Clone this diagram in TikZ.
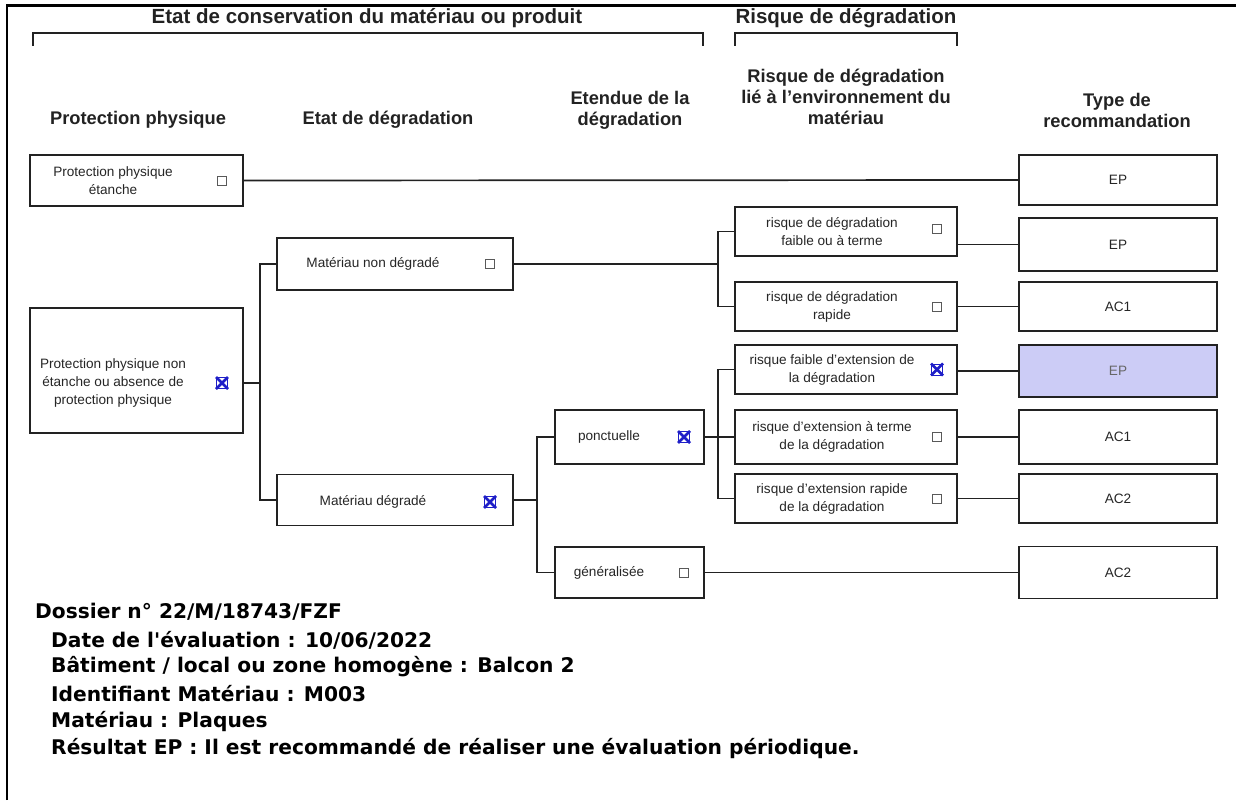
\documentclass[tikz,border=0pt]{standalone}
\usepackage{fontspec}
\setmainfont{Liberation Sans}
\newfontfamily\verd{DejaVu Sans}
\definecolor{lav}{RGB}{204,204,246}
\definecolor{xblue}{RGB}{30,30,200}
\definecolor{ink}{RGB}{34,34,34}
\begin{document}
\begin{tikzpicture}[x=1pt,y=-1pt,
  box/.style 2 args={draw=ink, line width=1.7pt, fill=white, inner sep=0pt, minimum width=#1, minimum height=#2},
  txt/.style={font=\fontsize{13.6}{18}\selectfont, text=black!85, align=center, inner sep=0pt},
  hdr/.style={font=\bfseries\fontsize{18.3}{21}\selectfont, align=center, text=ink, inner sep=0pt},
  top/.style={font=\bfseries\fontsize{20.5}{24}\selectfont, align=center, text=ink, inner sep=0pt},
  conn/.style={draw=ink, line width=1.7pt},
  brk/.style={draw=ink, line width=1.7pt},
  cb/.style={draw=black!65, line width=1pt, minimum size=9pt, inner sep=0pt, fill=white},
  xb/.style={draw=xblue, line width=1pt, minimum size=11pt, inner sep=0pt},
  xc/.style={draw=xblue, line width=2.8pt},
  info/.style={font=\verd\bfseries\fontsize{20.2}{24}\selectfont, anchor=west, inner sep=0pt, text=black}
]
\useasboundingbox (0,0) rectangle (1236,800);
% frame
\draw[line width=2pt] (7,800) -- (7,6);
\draw[line width=3pt] (6,6) -- (1236,6);

% headers
\node[top] (h1) at (367,18) {Etat de conservation du matériau ou produit};
\node[top] (h2) at (846,18) {Risque de dégradation};
\coordinate (b1a) at (33,46); \coordinate (b1b) at (703,46);
\draw[brk] (b1a) -- ++(0,-13) -| (b1b);
\coordinate (b2a) at (735,46); \coordinate (b2b) at (957,46);
\draw[brk] (b2a) -- ++(0,-13) -| (b2b);

\node[hdr] (c1) at (138,120) {Protection physique};
\node[hdr] (c2) at (388,120) {Etat de dégradation};
\node[hdr] (c3) at (630,110) {Etendue de la\\dégradation};
\node[hdr] (c4) at (846,97) {Risque de dégradation\\lié à l'environnement du\\matériau};
\node[hdr] (c5) at (1117,110) {Type de\\recommandation};

% column 1
\node[box={213pt}{51pt}] (PPE) at (136.5,180.5) {};
\node[txt] (tPPE) at (113,180.5) {Protection physique\\étanche};
\node[cb] (cPPE) at (222,180.5) {};

\node[box={213pt}{125pt}] (PPNE) at (136.5,370.5) {};
\node[txt] (tPPNE) at (113,383) {Protection physique non\\étanche ou absence de\\protection physique};
\node[xb] (xPPNE) at (222,383) {};
\draw[xc] (xPPNE.north west) -- (xPPNE.south east) (xPPNE.north east) -- (xPPNE.south west);

% column 2
\node[box={236pt}{52pt}] (MND) at (395,264) {};
\node[txt] (tMND) at (373,264) {Matériau non dégradé};
\node[cb] (cMND) at (490,264) {};

\node[box={236pt}{51pt}] (MD) at (395,500) {};
\node[txt] (tMD) at (373,502) {Matériau dégradé};
\node[xb] (xMD) at (490,502) {};
\draw[xc] (xMD.north west) -- (xMD.south east) (xMD.north east) -- (xMD.south west);

% column 3
\node[box={149pt}{54pt}] (PON) at (629.5,437) {};
\node[txt] (tPON) at (609,437) {ponctuelle};
\node[xb] (xPON) at (684,437) {};
\draw[xc] (xPON.north west) -- (xPON.south east) (xPON.north east) -- (xPON.south west);

\node[box={149pt}{51pt}] (GEN) at (629.5,572.5) {};
\node[txt] (tGEN) at (609,572.5) {généralisée};
\node[cb] (cGEN) at (684,572.5) {};

% column 4
\node[box={222pt}{49pt}] (R1) at (846,231.5) {};
\node[txt] (tR1) at (832,232) {risque de dégradation\\faible ou à terme};
\node[cb] (cR1) at (937,229) {};

\node[box={222pt}{49pt}] (R2) at (846,306.5) {};
\node[txt] (tR2) at (832,307) {risque de dégradation\\rapide};
\node[cb] (cR2) at (937,306.5) {};

\node[box={222pt}{49pt}] (R3) at (846,369.5) {};
\node[txt] (tR3) at (832,370) {risque faible d'extension de\\la dégradation};
\node[xb] (xR3) at (937,369.5) {};
\draw[xc] (xR3.north west) -- (xR3.south east) (xR3.north east) -- (xR3.south west);

\node[box={222pt}{54pt}] (R4) at (846,437) {};
\node[txt] (tR4) at (832,437) {risque d'extension à terme\\de la dégradation};
\node[cb] (cR4) at (937,437) {};

\node[box={222pt}{49pt}] (R5) at (846,498.5) {};
\node[txt] (tR5) at (832,499) {risque d'extension rapide\\de la dégradation};
\node[cb] (cR5) at (937,498.5) {};

% column 5
\node[box={198pt}{50pt}] (E1) at (1118,180) {};
\node[txt] (tE1) at (1118,180) {EP};
\node[box={198pt}{53pt}] (E2) at (1118,244.5) {};
\node[txt] (tE2) at (1118,244.5) {EP};
\node[box={198pt}{49pt}] (E3) at (1118,306.5) {};
\node[txt] (tE3) at (1118,306.5) {AC1};
\node[box={198pt}{52pt}, fill=lav] (E4) at (1118,371) {};
\node[txt, text=black!60] (tE4) at (1118,371) {EP};
\node[box={198pt}{54pt}] (E5) at (1118,437) {};
\node[txt] (tE5) at (1118,437) {AC1};
\node[box={198pt}{49pt}] (E6) at (1118,498.5) {};
\node[txt] (tE6) at (1118,498.5) {AC2};
\node[box={198pt}{52pt}] (E7) at (1118,572.5) {};
\node[txt] (tE7) at (1118,572.5) {AC2};

% connectors
\draw[conn] (PPE.east) -- (E1.west);

\coordinate (j1) at (260,383);
\draw[conn] (xPPNE -| PPNE.east) -- (j1);
\draw[conn] (MND.west) -| (j1) |- (MD.west);

\coordinate (j2) at (718,264);
\draw[conn] (MND.east) -- (j2);
\draw[conn] (R1.west) -| (j2) |- (R2.west);

\coordinate (j3) at (537,500);
\draw[conn] (MD.east) -- (j3);
\draw[conn] (PON.west) -| (j3) |- (GEN.west);

\coordinate (j4) at (718,437);
\draw[conn] (PON.east) -- (j4) -- (R4.west);
\draw[conn] (R3.west) -| (j4) |- (R5.west);

\draw[conn] (E2.west -| R1.east) -- (E2.west);
\draw[conn] (R2.east) -- (E3.west);
\draw[conn] (E4.west -| R3.east) -- (E4.west);
\draw[conn] (R4.east) -- (E5.west);
\draw[conn] (R5.east) -- (E6.west);
\draw[conn] (E7.west -| GEN.east) -- (E7.west);

% info text
\node[info] (i1) at (35,612) {Dossier n° 22/M/18743/FZF};
\node[info] (i2) at (51,640) {Date de l'évaluation : 10/06/2022};
\node[info] (i3) at (51,667) {Bâtiment / local ou zone homogène : Balcon 2};
\node[info] (i4) at (51,694) {Identifiant Matériau : M003};
\node[info] (i5) at (51,722) {Matériau : Plaques};
\node[info] (i6) at (51,749) {Résultat EP : Il est recommandé de réaliser une évaluation périodique.};
\end{tikzpicture}
\end{document}
